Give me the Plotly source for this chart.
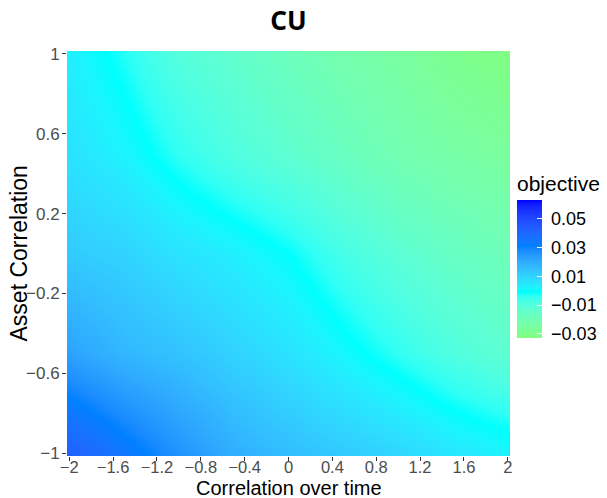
import plotly.graph_objects as go

# ---- data ----
corr_time = [-2.0, -1.5, -1.0, -0.5, 0.0, 0.5, 1.0, 1.5, 2.0]
asset_corr = [-1.0, -0.5, 0.0, 0.5, 1.0]
objective = [
    [0.042, 0.034, 0.026, 0.019, 0.015, 0.012, 0.009, 0.005, 0.002],
    [0.022, 0.017, 0.014, 0.010, 0.006, 0.001, -0.004, -0.009, -0.013],
    [0.012, 0.010, 0.006, 0.003, -0.001, -0.007, -0.012, -0.016, -0.019],
    [0.006, 0.002, -0.004, -0.009, -0.013, -0.017, -0.021, -0.024, -0.026],
    [0.003, -0.003, -0.010, -0.014, -0.018, -0.022, -0.025, -0.029, -0.032],
]
x_ticks = [-2, -1.6, -1.2, -0.8, -0.4, 0, 0.4, 0.8, 1.2, 1.6, 2]
y_ticks = [-1, -0.6, -0.2, 0.2, 0.6, 1]
cbar_ticks = [-0.03, -0.01, 0.01, 0.03, 0.05]
z_lo, z_hi = -0.033, 0.063
palette = ["#80FF80", "#00FFFF", "#0080FF", "#0000FF"]


# ---- Lab-interpolated colour scale (like ggplot's gradientn) ----
def hex_to_lab(h):
    r, g, b = [int(h[i:i + 2], 16) / 255 for i in (1, 3, 5)]

    def lin(c):
        return c / 12.92 if c <= 0.04045 else ((c + 0.055) / 1.055) ** 2.4
    r, g, b = lin(r), lin(g), lin(b)
    X = (0.4124 * r + 0.3576 * g + 0.1805 * b) / 0.95047
    Y = (0.2126 * r + 0.7152 * g + 0.0722 * b)
    Z = (0.0193 * r + 0.1192 * g + 0.9505 * b) / 1.08883

    def f(t):
        return t ** (1 / 3) if t > 0.008856 else 7.787 * t + 16 / 116
    fx, fy, fz = f(X), f(Y), f(Z)
    return (116 * fy - 16, 500 * (fx - fy), 200 * (fy - fz))


def lab_to_hex(L, a, b):
    fy = (L + 16) / 116
    fx = fy + a / 500
    fz = fy - b / 200

    def finv(t):
        return t ** 3 if t ** 3 > 0.008856 else (t - 16 / 116) / 7.787
    X, Y, Z = finv(fx) * 0.95047, finv(fy), finv(fz) * 1.08883
    r = 3.2406 * X - 1.5372 * Y - 0.4986 * Z
    g = -0.9689 * X + 1.8758 * Y + 0.0415 * Z
    bb = 0.0557 * X - 0.2040 * Y + 1.0570 * Z

    def gam(c):
        c = max(0.0, min(1.0, c))
        return 12.92 * c if c <= 0.0031308 else 1.055 * c ** (1 / 2.4) - 0.055
    return "#%02x%02x%02x" % tuple(int(round(gam(c) * 255)) for c in (r, g, bb))


colorscale = []
nseg = len(palette) - 1
steps = 12
for s in range(nseg):
    l0, l1 = hex_to_lab(palette[s]), hex_to_lab(palette[s + 1])
    for k in range(steps + (1 if s == nseg - 1 else 0)):
        t = k / steps
        lab = [l0[i] + (l1[i] - l0[i]) * t for i in range(3)]
        colorscale.append([(s + t) / nseg, lab_to_hex(*lab)])


def fmt(v):
    return ("\u2212" + str(abs(v))) if v < 0 else str(v)


fig = go.Figure(
    go.Heatmap(
        x=corr_time,
        y=asset_corr,
        z=objective,
        zmin=z_lo,
        zmax=z_hi,
        zsmooth="best",
        colorscale=colorscale,
        colorbar=dict(
            title=dict(text="objective", side="top",
                       font=dict(family="Liberation Sans", size=21, color="black")),
            tickvals=cbar_ticks,
            ticktext=["\u00a0" + fmt(v) for v in cbar_ticks],
            tickfont=dict(family="Liberation Sans", size=18, color="black"),
            ticks="inside",
            tickcolor="white",
            ticklen=5,
            thickness=25,
            lenmode="pixels",
            len=166,
            x=1.0158,
            xanchor="left",
            y=0.496,
            yanchor="middle",
            outlinewidth=0,
            xpad=0,
            ypad=0,
        ),
    )
)

axis_common = dict(
    showgrid=False,
    zeroline=False,
    showline=False,
    automargin=False,
    ticks="outside",
    ticklen=4,
    tickcolor="#333333",
    tickwidth=1,
    tickfont=dict(family="Liberation Sans", size=17, color="#4D4D4D"),
)

fig.update_layout(
    width=607,
    height=498,
    margin=dict(l=67, r=97, t=51, b=42, autoexpand=False),
    paper_bgcolor="white",
    plot_bgcolor="white",
    title=dict(
        text="<b>CU</b>",
        x=0.5,
        xref="paper",
        xanchor="center",
        y=0.958,
        yref="container",
        yanchor="middle",
        font=dict(family="Noto Sans", size=26, color="black"),
    ),
    xaxis=dict(
        axis_common,
        range=[-2.02, 2.02],
        tickvals=x_ticks,
        ticktext=[fmt(v) for v in x_ticks],
        ticklabelstandoff=-8,
        tickfont=dict(family="Liberation Sans", size=16.5, color="#4D4D4D"),
    ),
    yaxis=dict(
        axis_common,
        range=[-1.015, 1.015],
        tickvals=y_ticks,
        ticktext=[fmt(v) for v in y_ticks],
        ticklabelstandoff=-1,
    ),
    annotations=[
        dict(text="Correlation over time", xref="paper", yref="paper",
             x=0.5, y=0, xanchor="center", yanchor="top", yshift=-20,
             borderpad=0, showarrow=False,
             font=dict(family="Liberation Sans", size=20, color="black")),
        dict(text="Asset Correlation", xref="paper", yref="paper",
             x=0, y=0.5, xanchor="center", yanchor="middle", xshift=-49,
             textangle=-90, showarrow=False,
             font=dict(family="Liberation Sans", size=23, color="black")),
    ],
)

fig.write_html("out.html")
